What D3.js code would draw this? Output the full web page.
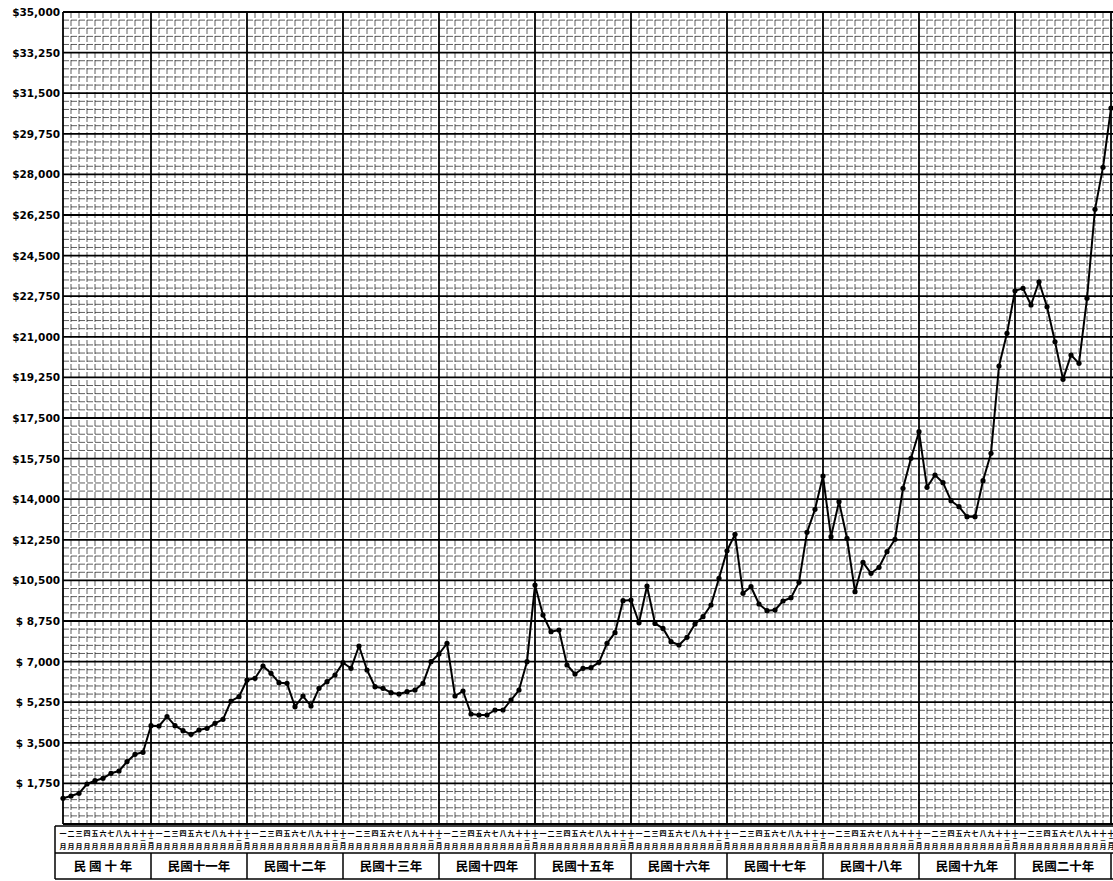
<!DOCTYPE html>
<html>
<head>
<meta charset="utf-8">
<script src="https://cdn.jsdelivr.net/npm/d3@7"></script>
<style>
  body { margin: 0; background: #fff; }
  svg { display: block; }
  .ylab { font-family: "DejaVu Sans", sans-serif; font-weight: bold; font-size: 10.5px; }
  .cjk { font-family: "Noto Sans CJK TC", sans-serif; font-weight: 700; }
</style>
</head>
<body>
<div id="chart"></div>
<script>
// 民國十年 - 民國二十年, monthly
var yearLabels = ["民 國 十 年", "民國十一年", "民國十二年", "民國十三年", "民國十四年",
  "民國十五年", "民國十六年", "民國十七年", "民國十八年", "民國十九年", "民國二十年"];
var monthNums = ["一", "二", "三", "四", "五", "六", "七", "八", "九", "十", "十", "十"];
var monthSubs = ["", "", "", "", "", "", "", "", "", "", "一", "二"];
var yTickValues = [1750, 3500, 5250, 7000, 8750, 10500, 12250, 14000, 15750, 17500,
  19250, 21000, 22750, 24500, 26250, 28000, 29750, 31500, 33250, 35000];

var values = [
  1108, 1207, 1323, 1724, 1866, 1970, 2185, 2284, 2685, 3004, 3090, 4237,
  4224, 4625, 4237, 4022, 3866, 4051, 4123, 4340, 4512, 5301, 5487, 6206,
  6280, 6810, 6495, 6090, 6064, 5056, 5517, 5086, 5849, 6133, 6422, 6952,
  6711, 7672, 6637, 5918, 5849, 5659, 5603, 5702, 5775, 6064, 6995, 7327,
  7788, 5517, 5732, 4741, 4698, 4698, 4913, 4913, 5344, 5775, 6995, 10300,
  9008, 8288, 8361, 6853, 6465, 6711, 6739, 6968, 7788, 8245, 9624, 9654,
  8676, 10258, 8647, 8432, 7857, 7715, 8046, 8620, 8935, 9439, 10589, 11779,
  12486, 9943, 10228, 9482, 9193, 9223, 9611, 9754, 10416, 12572, 13563, 14999,
  12383, 13892, 12314, 10012, 11279, 10805, 11064, 11737, 12271, 14470, 15762, 16909,
  14513, 15042, 14711, 13935, 13677, 13246, 13246, 14797, 15977, 19740, 21149, 22985,
  23088, 22369, 23373, 22296, 20787, 19166, 20214, 19856, 22657, 26494, 28303, 30860
];

var width = 1113, height = 881;

var svg = d3.select("#chart").append("svg")
  .attr("width", width)
  .attr("height", height);

var x = d3.scaleLinear().domain([0, values.length - 1]).range([63, 1111]);
var y = d3.scaleLinear().domain([0, 35000]).range([824, 12]);

// grid (minor lines broken like the printed graph paper)
var grid = svg.append("g").attr("class", "grid");

grid.selectAll(".hline")
  .data(d3.range(0, 35001, 350))
  .enter()
  .append("line")
  .attr("x1", x(0))
  .attr("x2", width)
  .attr("y1", function(d) { return y(d); })
  .attr("y2", function(d) { return y(d); })
  .attr("stroke", "#000")
  .attr("stroke-dasharray", function(d) { return d % 1750 === 0 ? null : "6,2"; })
  .attr("stroke-opacity", function(d) { return d % 1750 === 0 ? 1 : 0.7; })
  .attr("stroke-width", function(d) { return d % 1750 === 0 ? 1.8 : 0.9; });

grid.selectAll(".vline")
  .data(d3.range(0, values.length))
  .enter()
  .append("line")
  .attr("x1", function(d) { return x(d); })
  .attr("x2", function(d) { return x(d); })
  .attr("y1", y(35000))
  .attr("y2", y(0))
  .attr("stroke", "#000")
  .attr("stroke-dasharray", function(d) { return (d % 12 === 11 || d === 0) ? null : "6,2"; })
  .attr("stroke-opacity", function(d) { return (d % 12 === 11 || d === 0) ? 1 : 0.7; })
  .attr("stroke-width", function(d) { return (d % 12 === 11 || d === 0) ? 1.8 : 0.9; });

// y labels
svg.append("g")
  .selectAll("text")
  .data(yTickValues)
  .enter()
  .append("text")
  .attr("class", "ylab")
  .attr("x", 60)
  .attr("y", function(d) { return y(d) + 4; })
  .attr("text-anchor", "end")
  .text(function(d) { return "$" + (d < 10000 ? " " : "") + d3.format(",")(d); });

// line + dots
var line = d3.line()
  .x(function(d, i) { return x(i); })
  .y(function(d) { return y(d); });

svg.append("path")
  .datum(values)
  .attr("fill", "none")
  .attr("stroke", "#000")
  .attr("stroke-width", 2)
  .attr("stroke-linejoin", "round")
  .attr("d", line);

svg.append("g")
  .selectAll("circle")
  .data(values)
  .enter()
  .append("circle")
  .attr("cx", function(d, i) { return x(i); })
  .attr("cy", function(d) { return y(d); })
  .attr("r", 2.6)
  .attr("fill", "#000");

// month / year strip
var strip = svg.append("g");
var stripTop = 826, stripMid = 853, stripBot = 879;

[stripTop, stripMid, stripBot].forEach(function(yy) {
  strip.append("line").attr("x1", 55).attr("x2", width).attr("y1", yy).attr("y2", yy)
    .attr("stroke", "#000").attr("stroke-width", 1.5);
});
strip.append("line").attr("x1", 55).attr("x2", 55).attr("y1", stripTop).attr("y2", stripBot)
  .attr("stroke", "#000").attr("stroke-width", 1.5);

var months = d3.range(0, values.length);

strip.selectAll(".mnum")
  .data(months)
  .enter()
  .append("text")
  .attr("class", "cjk")
  .attr("x", function(d) { return x(d); })
  .attr("y", 836)
  .attr("text-anchor", "middle")
  .attr("font-size", 7)
  .text(function(d) { return monthNums[d % 12]; });

strip.selectAll(".msub")
  .data(months.filter(function(d) { return monthSubs[d % 12] !== ""; }))
  .enter()
  .append("text")
  .attr("class", "cjk")
  .attr("x", function(d) { return x(d); })
  .attr("y", 842)
  .attr("text-anchor", "middle")
  .attr("font-size", 5)
  .text(function(d) { return monthSubs[d % 12]; });

strip.selectAll(".myue")
  .data(months)
  .enter()
  .append("text")
  .attr("class", "cjk")
  .attr("x", function(d) { return x(d); })
  .attr("y", 849)
  .attr("text-anchor", "middle")
  .attr("font-size", 7)
  .text("月");

strip.selectAll(".ysep")
  .data(d3.range(1, yearLabels.length + 1))
  .enter()
  .append("line")
  .attr("x1", function(d) { return x(d * 12 - 1); })
  .attr("x2", function(d) { return x(d * 12 - 1); })
  .attr("y1", stripMid)
  .attr("y2", stripBot)
  .attr("stroke", "#000")
  .attr("stroke-width", 1.5);

strip.selectAll(".ylabel")
  .data(yearLabels)
  .enter()
  .append("text")
  .attr("class", "cjk")
  .attr("x", function(d, i) { return (x(i * 12 - 1) + x(i * 12 + 11)) / 2; })
  .attr("y", 871)
  .attr("text-anchor", "middle")
  .attr("font-size", 12.5)
  .text(function(d) { return d; });
</script>
</body>
</html>
